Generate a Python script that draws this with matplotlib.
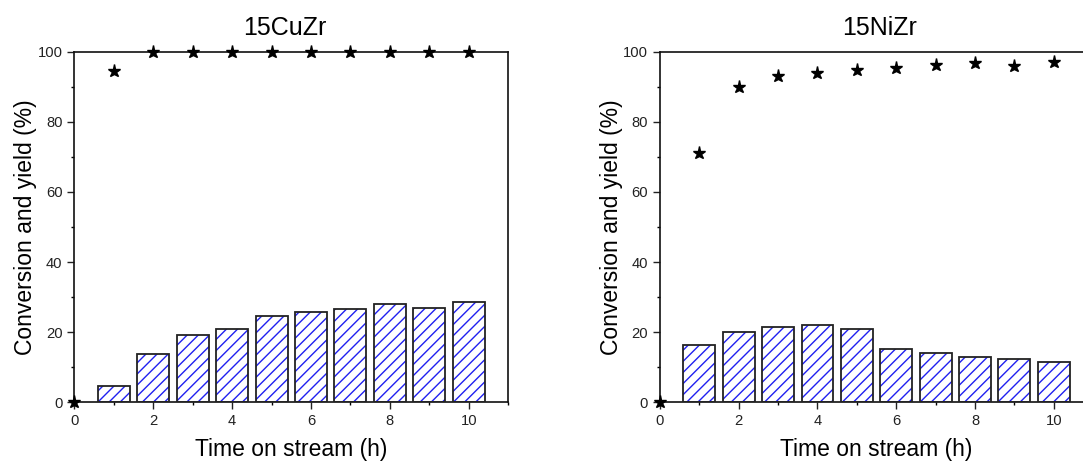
import matplotlib
matplotlib.use("Agg")
import matplotlib.pyplot as plt
from matplotlib.ticker import MultipleLocator

plt.rcParams['font.family'] = ['Liberation Sans', 'DejaVu Sans']

hours = [0, 1, 2, 3, 4, 5, 6, 7, 8, 9, 10]
bar_hours = [1, 2, 3, 4, 5, 6, 7, 8, 9, 10]

cu_conversion = [0, 94.6, 100, 100, 100, 100, 100, 100, 100, 100, 100]
cu_yield = [4.6, 13.9, 19.1, 20.8, 24.6, 25.8, 26.5, 27.9, 26.9, 28.5]

ni_conversion = [0, 71.1, 89.8, 93.0, 94.0, 94.8, 95.5, 96.1, 96.8, 96.0, 97.0]
ni_yield = [16.3, 20.1, 21.5, 22.0, 21.0, 15.3, 14.1, 13.0, 12.3, 11.4]

titles = ["15CuZr", "15NiZr"]
xlabel = "Time on stream (h)"
ylabel = "Conversion and yield (%)"

fig = plt.figure(figsize=(10.83, 4.61), dpi=100)
ax1 = fig.add_axes([0.0686, 0.1273, 0.4007, 0.7605])
ax2 = fig.add_axes([0.6094, 0.1273, 0.3999, 0.7605])

panels = [(ax1, cu_conversion, cu_yield, 0.4855), (ax2, ni_conversion, ni_yield, 0.508)]

for i, (ax, conv, yld, tx) in enumerate(panels):
    ax.bar(bar_hours, yld, width=0.81, facecolor='white', edgecolor='#2020f0',
           hatch='///', linewidth=0, zorder=2)
    ax.bar(bar_hours, yld, width=0.81, fill=False, edgecolor='#222222',
           linewidth=1.3, zorder=3)
    ax.plot(hours, conv, linestyle='none', marker='*', color='black',
            markersize=9.5, clip_on=False, zorder=5)
    ax.set_xlim(0, 11)
    ax.set_ylim(0, 100)
    ax.xaxis.set_major_locator(MultipleLocator(2))
    ax.xaxis.set_minor_locator(MultipleLocator(1))
    ax.yaxis.set_major_locator(MultipleLocator(20))
    ax.yaxis.set_minor_locator(MultipleLocator(10))
    ax.tick_params(axis='both', which='major', direction='out', length=5,
                   width=1.0, labelsize=10.6, colors='#222222', pad=3.5)
    ax.tick_params(axis='both', which='minor', direction='out', length=2.5, width=1.0)
    ax.tick_params(top=False, right=False)
    for s in ax.spines.values():
        s.set_linewidth(1.2)
        s.set_color('#111111')
    ax.set_title(titles[i], fontsize=18, pad=12, x=tx)
    ax.set_xlabel(xlabel, fontsize=16.5, labelpad=7)
    ax.set_ylabel(ylabel, fontsize=16.5, labelpad=0)

fig.savefig("out.png", dpi=100)
